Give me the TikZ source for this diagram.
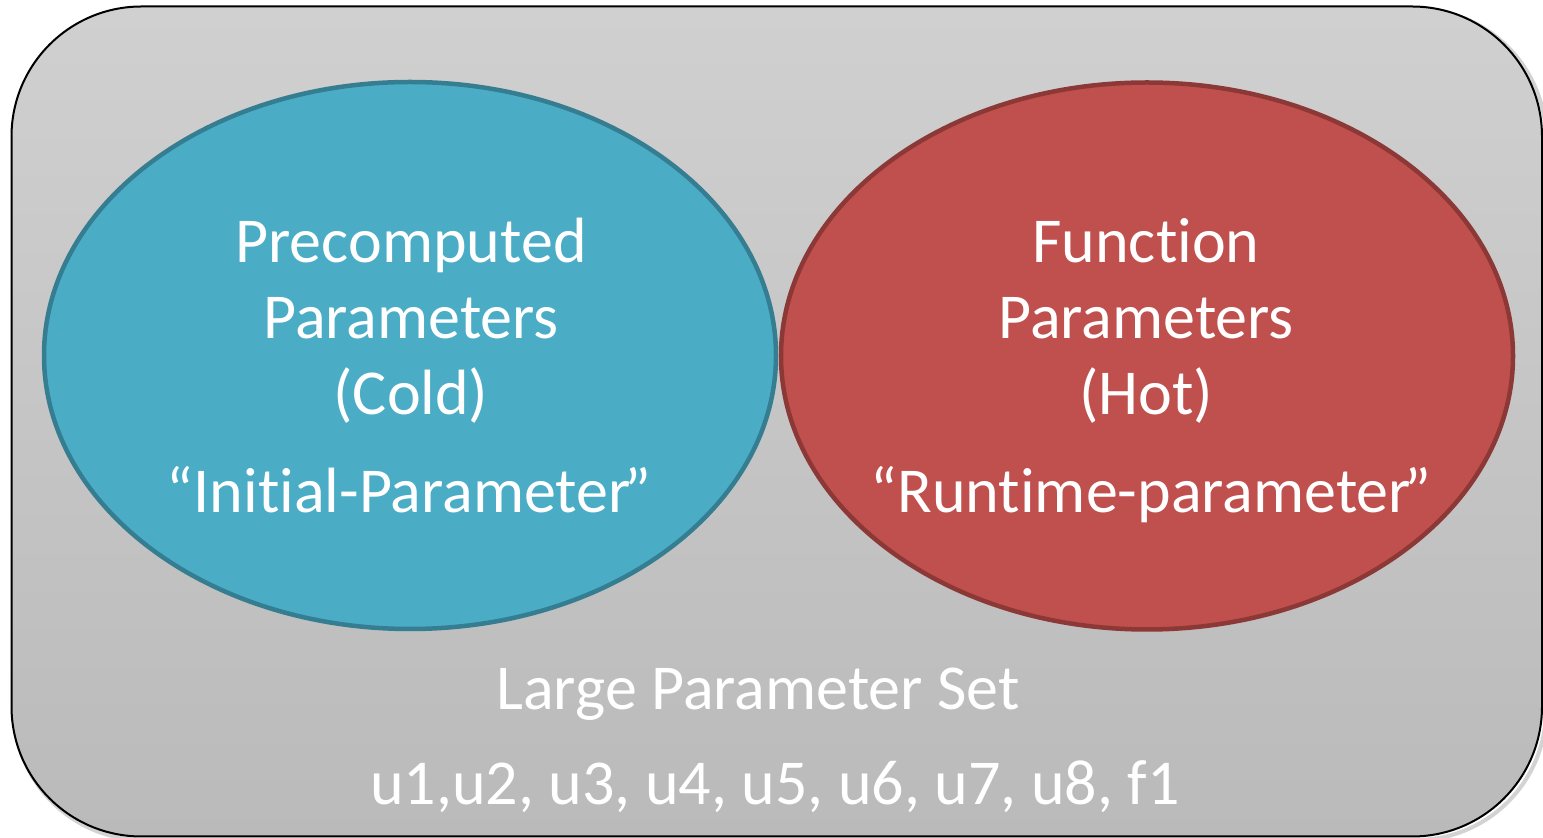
\documentclass[tikz,border=0pt]{standalone}
\usepackage{fontspec}
\setmainfont{Carlito}[Ligatures=NoCommon]
\usetikzlibrary{shapes.geometric}
\definecolor{coldfill}{HTML}{4BACC6}
\definecolor{colddraw}{HTML}{357D91}
\definecolor{hotfill}{HTML}{C0504D}
\definecolor{hotdraw}{HTML}{8C3836}
\definecolor{settop}{HTML}{D0D0D0}
\definecolor{setbottom}{HTML}{BABABA}
\newcommand{\closeq}{\kern-0.1em”}
\tikzset{
  paramset/.style={ellipse, inner sep=0pt, line width=2.25pt,
    minimum width=366pt, minimum height=273.5pt},
  label/.style={text=white, inner sep=0pt, anchor=base,
    font=\fontsize{32}{38}\selectfont},
}
\begin{document}
\begin{tikzpicture}[x=0.5pt, y=-0.5pt]
  \useasboundingbox (0,0) rectangle (1543,838);
  % faint shadow and the large parameter set
  \draw[gray, opacity=0.35, line width=2pt, rounded corners=65pt]
    (14,9) rectangle (1546,840);
  \shade[top color=settop, bottom color=setbottom, draw=black,
    line width=1pt, rounded corners=65pt]
    (11.5,6.5) rectangle (1542,836.5);
  % the two subsets
  \node[paramset, fill=coldfill, draw=colddraw] (cold) at (410,355.5) {};
  \node[paramset, fill=hotfill, draw=hotdraw] (hot) at (1147,356) {};
  % cold subset text
  \node[label] (c1) at (411,263) {Precomputed};
  \node[label] (c2) at (411,339) {Parameters};
  \node[label] (c3) at (411,415) {(Cold)};
  \node[label] (c4) at (409,513) {“Initial-Parameter\closeq};
  % hot subset text
  \node[label] (h1) at (1146,263) {Function};
  \node[label] (h2) at (1146,339) {Parameters};
  \node[label] (h3) at (1146,415) {(Hot)};
  \node[label] (h4) at (1151,513) {“Runtime-parameter\closeq};
  % set caption
  \node[label] (s1) at (758,710) {Large Parameter Set};
  \node[label] (s2) at (775,805) {u1,u2, u3, u4, u5, u6, u7, u8, f1};
\end{tikzpicture}
\end{document}
